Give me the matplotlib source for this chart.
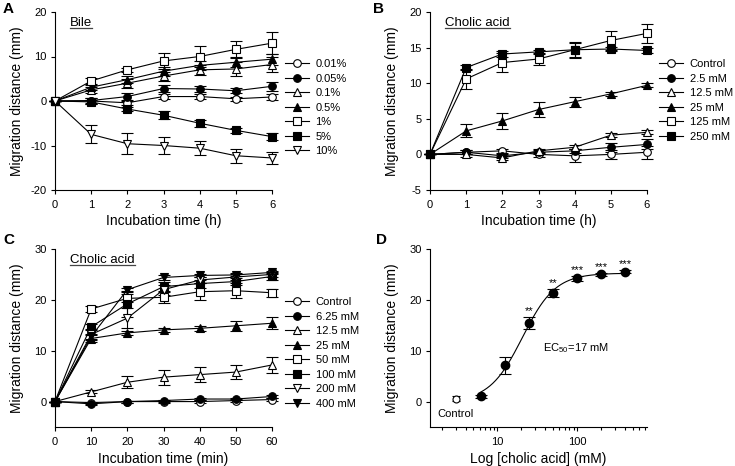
import numpy as np
import matplotlib
matplotlib.use('Agg')
import matplotlib.pyplot as plt
from matplotlib.lines import Line2D

plt.rcParams['font.family'] = ['Liberation Sans', 'DejaVu Sans']
plt.rcParams['font.size'] = 8
plt.rcParams['axes.unicode_minus'] = False
plt.rcParams['axes.linewidth'] = 0.8
plt.rcParams['xtick.major.width'] = 0.8
plt.rcParams['ytick.major.width'] = 0.8
plt.rcParams['xtick.minor.width'] = 0.8
plt.rcParams['xtick.major.size'] = 3
plt.rcParams['ytick.major.size'] = 3
plt.rcParams['xtick.minor.size'] = 2.5
plt.rcParams['mathtext.default'] = 'regular'

# ---- data ----
# A: bile, hours
hours = [0, 1, 2, 3, 4, 5, 6]
bile_labels = ['0.01%', '0.05%', '0.1%', '0.5%', '1%', '5%', '10%']
bile_001 = [0, 0.0, -0.4, 1.0, 1.0, 0.5, 0.9]
bile_005 = [0, 0.1, 1.0, 2.8, 2.7, 2.3, 3.3]
bile_01 = [0, 2.5, 4.0, 5.6, 7.0, 7.2, 8.2]
bile_05 = [0, 3.1, 4.8, 6.7, 8.0, 8.7, 9.4]
bile_1 = [0, 4.5, 7.0, 9.0, 10.0, 11.6, 13.0]
bile_5 = [0, -0.2, -1.8, -3.2, -5.0, -6.6, -8.0]
bile_10 = [0, -7.5, -9.6, -10.0, -10.6, -12.3, -12.8]
bile_001_err = [0, 0.6, 0.5, 0.5, 0.6, 0.5, 0.6]
bile_005_err = [0, 0.5, 0.8, 0.8, 0.6, 0.6, 1.0]
bile_01_err = [0, 0.7, 1.0, 1.0, 1.2, 1.6, 1.6]
bile_05_err = [0, 0.6, 0.8, 1.0, 1.0, 1.0, 1.2]
bile_1_err = [0, 0.6, 0.4, 1.8, 2.3, 1.8, 2.4]
bile_5_err = [0, 0.4, 0.5, 0.9, 0.8, 0.5, 0.8]
bile_10_err = [0, 2.0, 2.4, 1.8, 1.6, 1.6, 1.4]

# B: cholic acid, hours
ca_h_labels = ['Control', '2.5 mM', '12.5 mM', '25 mM', '125 mM', '250 mM']
cah_ctrl = [0, 0.3, 0.5, 0.0, -0.2, 0.0, 0.3]
cah_25 = [0, 0.3, -0.2, 0.3, 0.5, 1.0, 1.4]
cah_125 = [0, 0.0, -0.5, 0.5, 1.0, 2.7, 3.1]
cah_250 = [0, 3.3, 4.7, 6.3, 7.4, 8.5, 9.7]
cah_1250 = [0, 10.6, 12.9, 13.4, 14.7, 16.0, 17.0]
cah_2500 = [0, 12.2, 14.1, 14.4, 14.7, 14.8, 14.6]
cah_ctrl_err = [0, 0.3, 0.3, 0.4, 0.9, 0.6, 0.9]
cah_25_err = [0, 0.3, 0.3, 0.3, 0.3, 0.6, 0.7]
cah_125_err = [0, 0.3, 0.3, 0.3, 0.3, 0.3, 0.3]
cah_250_err = [0, 0.9, 1.1, 1.0, 0.7, 0.3, 0.3]
cah_1250_err = [0, 1.4, 1.3, 0.8, 1.1, 1.3, 1.3]
cah_2500_err = [0, 0.3, 0.4, 0.3, 1.0, 0.3, 0.3]

# C: cholic acid, minutes
minutes = [0, 10, 20, 30, 40, 50, 60]
ca_m_labels = ['Control', '6.25 mM', '12.5 mM', '25 mM', '50 mM', '100 mM', '200 mM', '400 mM']
cam_ctrl = [0, -0.2, 0.0, 0.0, 0.0, 0.2, 0.4]
cam_625 = [0, -0.45, 0.0, 0.2, 0.5, 0.5, 1.0]
cam_125 = [0, 1.9, 3.8, 4.8, 5.3, 5.8, 7.2]
cam_25 = [0, 12.4, 13.5, 14.1, 14.4, 14.9, 15.4]
cam_50 = [0, 18.2, 20.3, 20.5, 21.6, 21.8, 21.4]
cam_100 = [0, 14.7, 19.2, 22.6, 23.2, 23.6, 24.6]
cam_200 = [0, 13.2, 16.4, 22.0, 23.9, 24.5, 25.0]
cam_400 = [0, 12.8, 22.0, 24.4, 24.8, 24.9, 25.4]
cam_ctrl_err = [0, 0.2, 0.2, 0.2, 0.3, 0.3, 0.3]
cam_625_err = [0, 0.2, 0.2, 0.2, 0.2, 0.2, 0.3]
cam_125_err = [0, 0.3, 1.2, 1.5, 1.4, 1.3, 1.5]
cam_25_err = [0, 0.6, 0.4, 0.4, 0.5, 1.0, 1.2]
cam_50_err = [0, 0.5, 0.8, 1.2, 1.7, 1.5, 0.8]
cam_100_err = [0, 0.6, 2.5, 1.0, 0.8, 0.6, 0.6]
cam_200_err = [0, 1.0, 2.0, 1.0, 0.6, 0.5, 0.5]
cam_400_err = [0, 0.4, 0.4, 0.4, 0.3, 0.3, 0.3]

# D: dose response at 60 min
conc = [6.25, 12.5, 25, 50, 100, 200, 400]
dist60 = [1.0, 7.1, 15.4, 21.4, 24.2, 25.0, 25.5]
dist60_err = [0.3, 1.7, 1.2, 0.8, 0.4, 0.3, 0.3]
stars = ['', '', '**', '**', '***', '***', '***']
ctrl_x = 3.0
ctrl_y = 0.6
ctrl_err = 0.5

markers4 = [('o', 'white'), ('o', 'black'), ('^', 'white'), ('^', 'black'),
            ('s', 'white'), ('s', 'black'), ('v', 'white'), ('v', 'black')]

fig = plt.figure(figsize=(7.35, 4.66), dpi=100)
W, H = 735.0, 466.0


def make_ax(l, t, r, b):
    ax = fig.add_axes([l / W, 1 - b / H, (r - l) / W, (b - t) / H])
    ax.spines['top'].set_visible(False)
    ax.spines['right'].set_visible(False)
    ax.tick_params(axis='x', which='both', direction='out', labelsize=8, pad=4)
    ax.tick_params(axis='y', direction='out', labelsize=8, pad=3)
    return ax


def series(ax, x, ys, errs, labels, marks):
    handles = []
    for y, e, lab, (m, fc) in zip(ys, errs, labels, marks):
        ax.errorbar(x, y, yerr=e, color='black', lw=0.8, elinewidth=0.8, capsize=4, capthick=0.8,
                    marker=m, markersize=5.5, mfc=fc, mec='black', mew=0.8, clip_on=False, zorder=3)
        handles.append(Line2D([], [], color='black', lw=0.8, marker=m, markersize=5.5, mfc=fc,
                              mec='black', mew=0.8, label=lab))
    return handles


def title_under(ax, s, x=0.07, y=0.97):
    t = ax.text(x, y, s, transform=ax.transAxes, fontsize=9.5, va='top', ha='left')
    fig.canvas.draw()
    bb = t.get_window_extent().transformed(ax.transAxes.inverted())
    ax.add_line(Line2D([bb.x0, bb.x1], [bb.y0 + 0.005, bb.y0 + 0.005], transform=ax.transAxes,
                       color='#444444', lw=0.9))


def legend(ax, handles, x, y):
    ax.legend(handles=handles, loc='upper left', bbox_to_anchor=(x / W, 1 - y / H),
              bbox_transform=fig.transFigure, frameon=False, fontsize=8, handlelength=2.15,
              handletextpad=0.6, labelspacing=0.41, borderaxespad=0, borderpad=0)


def labels(ax, xl, xpos):
    ax.set_xlabel(xl, fontsize=10)
    ax.set_ylabel('Migration distance (mm)', fontsize=10)
    ax.xaxis.set_label_coords(0.5, xpos)
    ax.yaxis.set_label_coords(-0.143, 0.5)


# ---- A ----
axA = make_ax(55, 12, 272, 190)
h = series(axA, hours, [bile_001, bile_005, bile_01, bile_05, bile_1, bile_5, bile_10],
           [bile_001_err, bile_005_err, bile_01_err, bile_05_err, bile_1_err, bile_5_err, bile_10_err],
           bile_labels, markers4[:6] + [('v', 'white')])
axA.set_xlim(0, 6)
axA.set_ylim(-20, 20)
axA.set_yticks([-20, -10, 0, 10, 20])
axA.set_xticks(hours)
labels(axA, 'Incubation time (h)', -0.135)
legend(axA, h, 285, 59)
title_under(axA, 'Bile')

# ---- B ----
axB = make_ax(430, 12, 647, 190)
h = series(axB, hours, [cah_ctrl, cah_25, cah_125, cah_250, cah_1250, cah_2500],
           [cah_ctrl_err, cah_25_err, cah_125_err, cah_250_err, cah_1250_err, cah_2500_err],
           ca_h_labels, markers4[:6])
axB.set_xlim(0, 6)
axB.set_ylim(-5, 20)
axB.set_yticks([-5, 0, 5, 10, 15, 20])
axB.set_xticks(hours)
labels(axB, 'Incubation time (h)', -0.135)
legend(axB, h, 659, 59)
title_under(axB, 'Cholic acid')

# ---- C ----
axC = make_ax(55, 249, 272, 427)
h = series(axC, minutes, [cam_ctrl, cam_625, cam_125, cam_25, cam_50, cam_100, cam_200, cam_400],
           [cam_ctrl_err, cam_625_err, cam_125_err, cam_25_err, cam_50_err, cam_100_err, cam_200_err,
            cam_400_err],
           ca_m_labels, markers4)
axC.set_xlim(0, 60)
axC.set_ylim(-5, 30)
axC.set_yticks([0, 10, 20, 30])
axC.set_xticks(minutes)
labels(axC, 'Incubation time (min)', -0.138)
legend(axC, h, 285, 297)
title_under(axC, 'Cholic acid')

# ---- D ----
axD = make_ax(430, 249, 647, 427)
axD.set_xscale('log')
# Hill fit through the dose-response points (simple grid search)
lx = np.log10(conc)
yv = np.array(dist60)
best = None
for top in np.linspace(24.5, 27, 11):
    for lec in np.linspace(np.log10(12), np.log10(30), 40):
        for n in np.linspace(1.2, 4, 29):
            f = top / (1 + 10 ** ((lec - lx) * n))
            err = np.sum((f - yv) ** 2)
            if best is None or err < best[0]:
                best = (err, top, lec, n)
_, top, lec, n = best
xc = np.logspace(np.log10(conc[0]), np.log10(conc[-1]), 200)
axD.plot(xc, top / (1 + 10 ** ((lec - np.log10(xc)) * n)), color='black', lw=0.8)
axD.errorbar(conc, dist60, yerr=dist60_err, fmt='o', color='black', markersize=6, elinewidth=0.8,
             capsize=4, capthick=0.8, zorder=3)
axD.errorbar([ctrl_x], [ctrl_y], yerr=[ctrl_err], fmt='o', color='black', mfc='white', markersize=5,
             mew=0.8, elinewidth=0.8, capsize=3, capthick=0.8, zorder=3)
for xv, yv_, e, s in zip(conc, dist60, dist60_err, stars):
    if s:
        axD.text(xv, yv_ + e + 0.2, s, ha='center', va='bottom', fontsize=8)
axD.text(ctrl_x, -1.4, 'Control', ha='center', va='top', fontsize=8)
axD.text(98, 10.5, 'EC$_{50}$=17 mM', ha='center', va='center', fontsize=8)
axD.set_xlim(1.43, 750)
axD.set_ylim(-5, 30)
axD.set_yticks([0, 10, 20, 30])
axD.set_xticks([10, 100])
axD.set_xticklabels(['10', '100'])
axD.tick_params(axis='x', which='minor', labelbottom=False)
labels(axD, 'Log [cholic acid] (mM)', -0.138)

# panel letters
for s, x, y in [('A', 3, 2), ('B', 373, 2), ('C', 3, 233), ('D', 376, 233)]:
    fig.text(x / W, 1 - y / H, s, fontsize=11, fontweight='bold', va='top', ha='left')

fig.savefig('out.png', dpi=100)
